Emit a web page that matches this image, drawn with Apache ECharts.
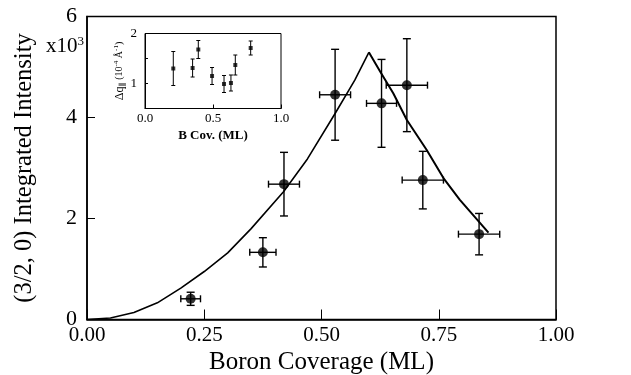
<!DOCTYPE html>
<html>
<head>
<meta charset="utf-8">
<script src="https://cdn.jsdelivr.net/npm/echarts@6/dist/echarts.min.js"></script>
<style>
  html, body { margin: 0; padding: 0; background: #fff; }
  #chart { width: 631px; height: 375px; }
</style>
</head>
<body>
<div id="chart"></div>
<script>
// main panel: measured points [coverage, intensity(x10^3), xErr, yErr]
const coverage  = [0.221, 0.375, 0.420, 0.529, 0.628, 0.682, 0.716, 0.836];
const intensity = [0.41, 1.33, 2.68, 4.45, 4.28, 4.64, 2.76, 1.69];
const covErr    = [0.021, 0.028, 0.033, 0.033, 0.032, 0.044, 0.044, 0.044];
const intErr    = [0.13, 0.29, 0.63, 0.90, 0.87, 0.92, 0.57, 0.41];

// model curve: rising branch and falling branch
const riseX = [0, 0.05, 0.10, 0.15, 0.20, 0.25, 0.30, 0.35, 0.419, 0.47, 0.529, 0.571, 0.601];
const riseY = [0, 0.03, 0.14, 0.33, 0.62, 0.95, 1.32, 1.80, 2.53, 3.18, 4.08, 4.74, 5.29];
const fallX = [0.601, 0.625, 0.653, 0.682, 0.724, 0.760, 0.795, 0.856];
const fallY = [5.29, 4.91, 4.48, 3.95, 3.36, 2.80, 2.37, 1.72];

// inset: peak width vs coverage
const insetX   = [0.208, 0.350, 0.392, 0.493, 0.581, 0.632, 0.664, 0.777];
const insetY   = [1.30, 1.31, 1.68, 1.15, 0.99, 1.01, 1.37, 1.71];
const insetErr = [0.34, 0.18, 0.18, 0.17, 0.17, 0.16, 0.20, 0.14];

const xTicks = [0, 0.25, 0.5, 0.75, 1];

const serif = '"Liberation Serif", "DejaVu Serif", serif';

function errBars(capV, capH, width) {
  return function (params, api) {
    const x = api.value(0), y = api.value(1), dx = api.value(2), dy = api.value(3);
    const top = api.coord([x, y + dy]), bot = api.coord([x, y - dy]);
    const l = api.coord([x - dx, y]), r = api.coord([x + dx, y]);
    const style = { stroke: '#000', lineWidth: width };
    const kids = [
      { type: 'line', shape: { x1: top[0], y1: top[1], x2: bot[0], y2: bot[1] }, style },
      { type: 'line', shape: { x1: top[0] - capV, y1: top[1], x2: top[0] + capV, y2: top[1] }, style },
      { type: 'line', shape: { x1: bot[0] - capV, y1: bot[1], x2: bot[0] + capV, y2: bot[1] }, style }
    ];
    if (dx > 0) {
      kids.push(
        { type: 'line', shape: { x1: l[0], y1: l[1], x2: r[0], y2: r[1] }, style },
        { type: 'line', shape: { x1: l[0], y1: l[1] - capH, x2: l[0], y2: l[1] + capH }, style },
        { type: 'line', shape: { x1: r[0], y1: r[1] - capH, x2: r[0], y2: r[1] + capH }, style }
      );
    }
    return { type: 'group', children: kids };
  };
}

const chart = echarts.init(document.getElementById('chart'));
chart.setOption({
  animation: false,
  backgroundColor: '#fff',
  textStyle: { fontFamily: serif },
  grid: [
    { left: 87, right: 75, top: 16.5, bottom: 55.5, show: true, borderColor: '#000', borderWidth: 1.5,
      containLabel: false, outerBoundsMode: 'none' },
    { left: 145, top: 33.5, width: 136, height: 75, show: true, borderColor: '#000', borderWidth: 1,
      backgroundColor: '#fff', containLabel: false, outerBoundsMode: 'none' }
  ],
  xAxis: [
    {
      gridIndex: 0, type: 'value', min: 0, max: 1, interval: 0.25,
      name: 'Boron Coverage (ML)', nameLocation: 'middle', nameGap: 28,
      nameTextStyle: { fontSize: 25, color: '#000', fontFamily: serif },
      axisLine: { lineStyle: { color: '#000', width: 1.5 } },
      axisTick: { inside: true, length: 10, lineStyle: { color: '#000', width: 1 } },
      axisLabel: { fontSize: 21, color: '#000', margin: 5, formatter: v => xTicks.includes(v) ? v.toFixed(2) : '' },
      splitLine: { show: false }
    },
    {
      gridIndex: 1, type: 'value', min: 0, max: 1, interval: 0.5,
      name: 'B Cov. (ML)', nameLocation: 'middle', nameGap: 21,
      nameTextStyle: { fontSize: 13, color: '#000', fontWeight: 'bold', fontFamily: serif },
      axisLine: { lineStyle: { color: '#000', width: 1 } },
      axisTick: { inside: true, length: 4, lineStyle: { color: '#000' } },
      axisLabel: { fontSize: 13, color: '#000', margin: 4, formatter: v => v.toFixed(1) },
      splitLine: { show: false }
    }
  ],
  yAxis: [
    {
      gridIndex: 0, type: 'value', min: 0, max: 6, interval: 2,
      name: '(3/2, 0) Integrated Intensity', nameLocation: 'middle', nameGap: 50,
      nameTextStyle: { fontSize: 24.5, color: '#000', fontFamily: serif },
      axisLine: { lineStyle: { color: '#000', width: 1.5 } },
      axisTick: { inside: true, length: 8, lineStyle: { color: '#000' } },
      axisLabel: { fontSize: 22, color: '#000', margin: 10 },
      splitLine: { show: false }
    },
    {
      gridIndex: 1, type: 'value', min: 0.5, max: 2, interval: 0.5,
      name: '{a|Δq}{s|∥} {b|(10}{p|-4}{b| Å}{p|-1}{b|)}', nameLocation: 'middle', nameGap: 16,
      nameTextStyle: {
        color: '#000',
        rich: {
          a: { fontSize: 12, fontFamily: serif },
          s: { fontSize: 8, fontFamily: serif, verticalAlign: 'bottom', padding: [6, 0, 0, 0] },
          b: { fontSize: 10, fontFamily: serif },
          p: { fontSize: 7, fontFamily: serif, verticalAlign: 'top', padding: [0, 0, 5, 0] }
        }
      },
      axisLine: { lineStyle: { color: '#000', width: 1 } },
      axisTick: { inside: true, length: 3, lineStyle: { color: '#000' } },
      axisLabel: { fontSize: 13, color: '#000', margin: 8, formatter: v => Number.isInteger(v) ? String(v) : '' },
      splitLine: { show: false }
    }
  ],
  series: [
    {
      type: 'line', xAxisIndex: 0, yAxisIndex: 0, smooth: false, showSymbol: false,
      lineStyle: { color: '#000', width: 1.6, join: 'round' },
      data: riseX.map((x, i) => [x, riseY[i]]), z: 2
    },
    {
      type: 'line', xAxisIndex: 0, yAxisIndex: 0, smooth: false, showSymbol: false,
      lineStyle: { color: '#000', width: 2, join: 'round' },
      data: fallX.map((x, i) => [x, fallY[i]]), z: 2
    },
    {
      type: 'custom', xAxisIndex: 0, yAxisIndex: 0,
      renderItem: errBars(4, 3.5, 1.4),
      data: coverage.map((x, i) => [x, intensity[i], covErr[i], intErr[i]]), z: 3
    },
    {
      type: 'scatter', xAxisIndex: 0, yAxisIndex: 0, symbol: 'circle', symbolSize: 10,
      itemStyle: { color: '#000' },
      data: coverage.map((x, i) => [x, intensity[i]]), z: 4
    },
    {
      type: 'custom', xAxisIndex: 1, yAxisIndex: 1,
      renderItem: errBars(2, 0, 1),
      data: insetX.map((x, i) => [x, insetY[i], 0, insetErr[i]]), z: 10
    },
    {
      type: 'scatter', xAxisIndex: 1, yAxisIndex: 1, symbol: 'rect', symbolSize: 4,
      itemStyle: { color: '#000' },
      data: insetX.map((x, i) => [x, insetY[i]]), z: 11
    }
  ],
  graphic: [
    {
      type: 'text', left: 46, top: 35,
      style: {
        text: '{m|x10}{e|3}',
        rich: {
          m: { fontSize: 21, fontFamily: serif, fill: '#000' },
          e: { fontSize: 13, fontFamily: serif, fill: '#000', verticalAlign: 'top', padding: [0, 0, 10, 0] }
        }
      }
    }
  ]
});
</script>
</body>
</html>
